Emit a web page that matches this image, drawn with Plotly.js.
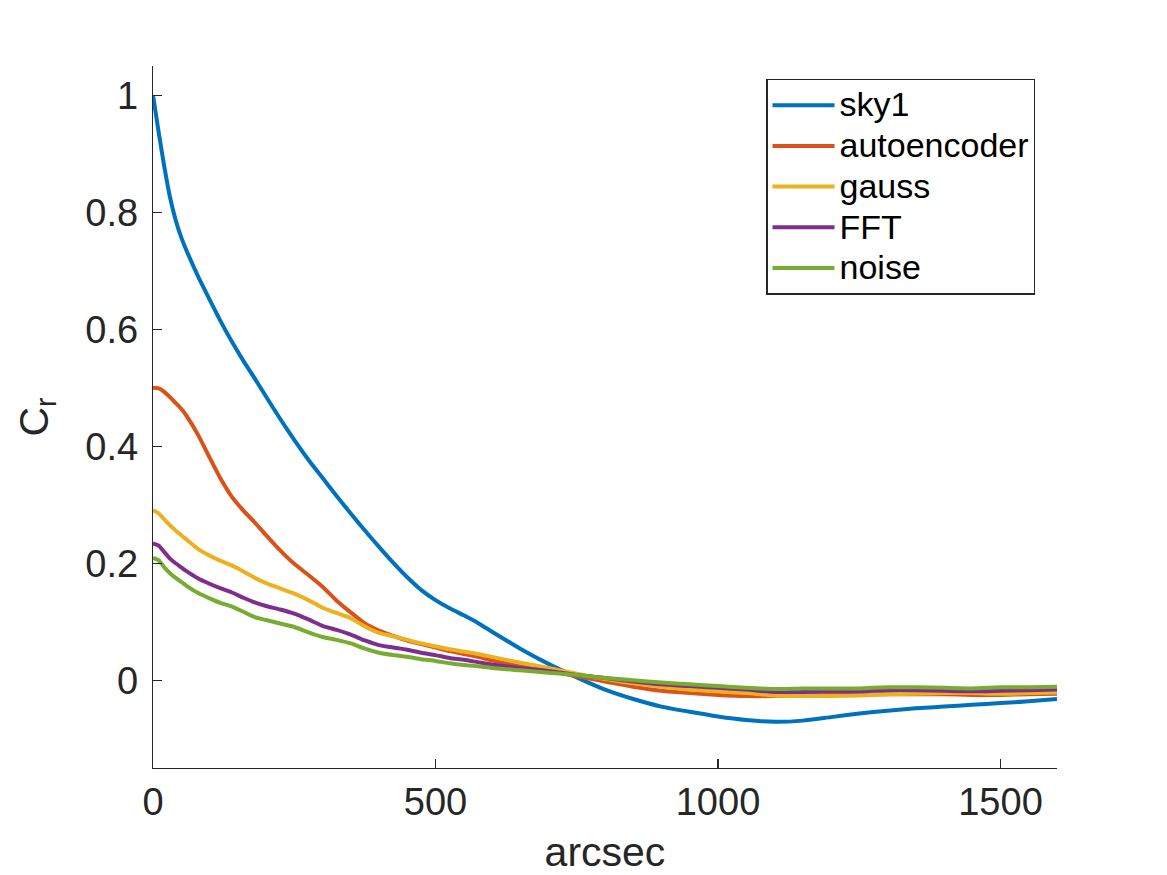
<!DOCTYPE html>
<html>
<head>
<meta charset="utf-8">
<script src="https://cdn.plot.ly/plotly-3.0.1.min.js"></script>
<style>html,body{margin:0;padding:0;background:#fff;}#chart{width:1167px;height:875px;}</style>
</head>
<body>
<div id="chart"></div>
<script>
const arcsec = [0,10,20,30,40,50,60,80,100,120,140,160,180,200,225,250,275,300,325,350,375,400,425,450,475,500,525,550,575,600,650,700,750,800,850,900,950,1000,1050,1100,1150,1200,1250,1300,1350,1400,1450,1500,1550,1600];

const sky1 = [1.000,0.937,0.878,0.826,0.787,0.757,0.733,0.690,0.651,0.613,0.578,0.546,0.516,0.485,0.447,0.411,0.377,0.346,0.315,0.285,0.256,0.228,0.201,0.176,0.154,0.137,0.123,0.111,0.098,0.083,0.054,0.028,0.005,-0.016,-0.032,-0.045,-0.054,-0.062,-0.068,-0.071,-0.069,-0.063,-0.057,-0.052,-0.048,-0.045,-0.042,-0.039,-0.036,-0.032];

const autoencoder = [0.500,0.499,0.493,0.484,0.474,0.464,0.451,0.419,0.381,0.344,0.313,0.290,0.270,0.248,0.222,0.199,0.180,0.160,0.136,0.116,0.097,0.085,0.076,0.068,0.062,0.056,0.050,0.045,0.040,0.034,0.024,0.016,0.007,-0.002,-0.011,-0.018,-0.022,-0.025,-0.027,-0.027,-0.026,-0.025,-0.025,-0.024,-0.024,-0.024,-0.025,-0.025,-0.024,-0.023];

const gauss = [0.291,0.285,0.275,0.265,0.256,0.248,0.240,0.224,0.213,0.204,0.196,0.186,0.175,0.166,0.157,0.148,0.137,0.124,0.115,0.106,0.092,0.081,0.075,0.069,0.063,0.058,0.053,0.049,0.045,0.040,0.030,0.021,0.011,0.002,-0.005,-0.011,-0.016,-0.019,-0.022,-0.026,-0.027,-0.027,-0.026,-0.024,-0.023,-0.022,-0.022,-0.023,-0.022,-0.021];

const fft = [0.234,0.230,0.219,0.208,0.200,0.193,0.186,0.174,0.165,0.157,0.150,0.141,0.133,0.127,0.121,0.114,0.104,0.093,0.086,0.078,0.068,0.060,0.056,0.052,0.047,0.043,0.038,0.035,0.031,0.027,0.021,0.016,0.009,0.004,-0.002,-0.007,-0.010,-0.013,-0.016,-0.020,-0.020,-0.019,-0.019,-0.017,-0.017,-0.018,-0.019,-0.018,-0.017,-0.016];

const noise = [0.209,0.205,0.193,0.183,0.175,0.168,0.161,0.149,0.140,0.132,0.126,0.117,0.108,0.103,0.097,0.091,0.082,0.074,0.069,0.063,0.054,0.047,0.043,0.040,0.036,0.033,0.029,0.026,0.024,0.021,0.017,0.013,0.009,0.004,0.000,-0.004,-0.007,-0.010,-0.013,-0.015,-0.014,-0.014,-0.014,-0.012,-0.012,-0.013,-0.014,-0.012,-0.012,-0.011];

const seriesNames = ['sky1','autoencoder','gauss','FFT','noise'];
const seriesData = [sky1, autoencoder, gauss, fft, noise];
const colors = ['#0072BD','#D95319','#EDB120','#7E2F8E','#77AC30'];

const xTicks = [0,500,1000,1500];
const yTicks = [0,0.2,0.4,0.6,0.8,1];

const FONT = 'Liberation Sans, Arial, Helvetica, sans-serif';

const traces = seriesNames.map((n,i)=>({
  x: arcsec, y: seriesData[i], type: 'scatter', mode: 'lines',
  name: '<span style="font-size:34px">' + n + '</span>',
  line: {color: colors[i], width: 4, shape: 'spline', smoothing: 0.6}
}));

const layout = {
  width: 1167, height: 875,
  paper_bgcolor: '#fff', plot_bgcolor: '#fff',
  margin: {l: 153, r: 110, t: 66, b: 107},
  font: {family: FONT, color: '#262626'},
  showlegend: true,
  legend: {
    x: 0.976, y: 0.982, xanchor: 'right', yanchor: 'top',
    bordercolor: '#262626', borderwidth: 1.2, bgcolor: '#fff',
    font: {family: FONT, size: 29, color: '#000'},
    itemwidth: 62, tracegroupgap: 0
  },
  xaxis: {
    range: [0,1600], tickvals: xTicks, ticktext: xTicks.map(String),
    ticks: 'inside', ticklen: 9, tickwidth: 1.2, tickcolor: '#262626',
    showline: true, linecolor: '#262626', linewidth: 1.2,
    showgrid: false, zeroline: false, mirror: false,
    tickfont: {family: FONT, size: 38, color: '#262626'},
    title: {text: 'arcsec', font: {family: FONT, size: 41, color: '#262626'}, standoff: 18}
  },
  yaxis: {
    range: [-0.15,1.05], tickvals: yTicks, ticktext: yTicks.map(String),
    ticks: 'inside', ticklen: 9, tickwidth: 1.2, tickcolor: '#262626',
    showline: true, linecolor: '#262626', linewidth: 1.2,
    showgrid: false, zeroline: false, mirror: false,
    ticklabelstandoff: 6,
    tickfont: {family: FONT, size: 38, color: '#262626'},
    title: {text: 'C<sub>r</sub>', font: {family: FONT, size: 41, color: '#262626'}, standoff: 24}
  }
};

Plotly.newPlot('chart', traces, layout, {displayModeBar: false, staticPlot: true});
</script>
</body>
</html>
